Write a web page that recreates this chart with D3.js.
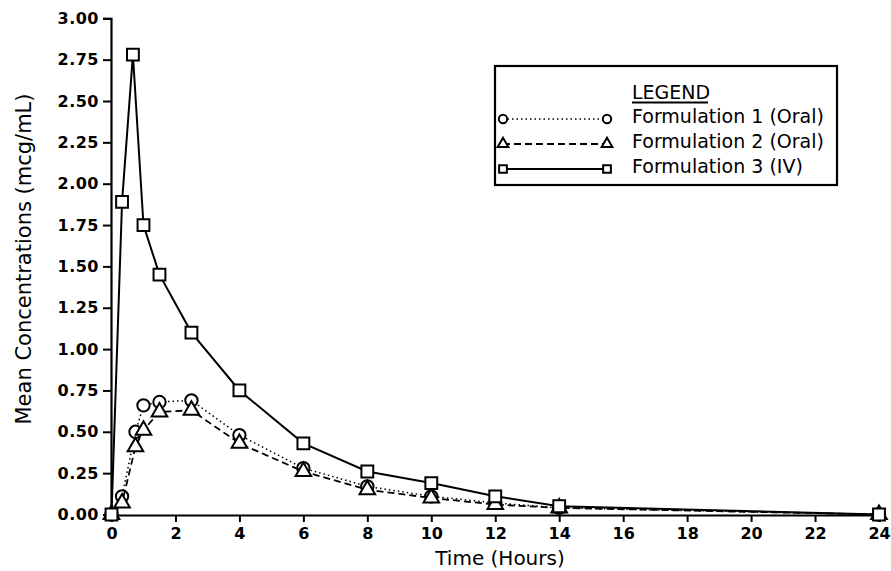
<!DOCTYPE html>
<html><head><meta charset="utf-8">
<script src="https://cdn.jsdelivr.net/npm/d3@7"></script>
<style>
html,body{margin:0;padding:0;background:#fff;}
svg{display:block;font-family:"DejaVu Sans",sans-serif;}
</style></head>
<body>
<svg id="chart" width="891" height="571"></svg>
<script>
// ---- data ----
const timesOral = [0, 0.33, 0.75, 1, 1.5, 2.5, 4, 6, 8, 10, 12, 14, 24];
const form1 = [0, 0.11, 0.50, 0.66, 0.68, 0.69, 0.48, 0.28, 0.17, 0.11, 0.07, 0.04, 0.00];
const form2 = [0, 0.07, 0.41, 0.51, 0.62, 0.63, 0.43, 0.26, 0.15, 0.10, 0.06, 0.04, 0.00];
const timesIV = [0, 0.33, 0.67, 1, 1.5, 2.5, 4, 6, 8, 10, 12, 14, 24];
const form3 = [0, 1.89, 2.78, 1.75, 1.45, 1.10, 0.75, 0.43, 0.26, 0.19, 0.11, 0.05, 0.00];
const xTicks = [0,2,4,6,8,10,12,14,16,18,20,22,24];
const yTicks = [0,0.25,0.5,0.75,1,1.25,1.5,1.75,2,2.25,2.5,2.75,3];
const seriesNames = ["Formulation 1 (Oral)", "Formulation 2 (Oral)", "Formulation 3 (IV)"];
const legendTitle = "LEGEND";
const xTitle = "Time (Hours)";
const yTitle = "Mean Concentrations (mcg/mL)";

const series = [
  {name: seriesNames[0], t: timesOral, v: form1, dash: "1.5,3", width: 1.5, sym: d3.symbolCircle},
  {name: seriesNames[1], t: timesOral, v: form2, dash: "7,4", width: 1.8, sym: d3.symbolTriangle},
  {name: seriesNames[2], t: timesIV, v: form3, dash: null, width: 2, sym: d3.symbolSquare}
];

const svg = d3.select("#chart");
const x = d3.scaleLinear().domain([0,24]).range([111.5, 879]);
const y = d3.scaleLinear().domain([0,3]).range([514.5, 18.3]);

// axes
const yAxis = svg.append("g").attr("transform","translate(111,0)")
  .call(d3.axisLeft(y).tickValues(yTicks).tickFormat(d3.format(".2f")).tickSizeOuter(0).tickSize(8).tickPadding(4));
const xAxis = svg.append("g").attr("transform","translate(0,515)")
  .call(d3.axisBottom(x).tickValues(xTicks).tickFormat(d3.format("d")).tickSizeOuter(0).tickSize(7).tickPadding(6));
[yAxis, xAxis].forEach(g=>{
  g.select(".domain").attr("stroke","#000").attr("stroke-width",2.2);
  g.selectAll(".tick line").attr("stroke","#000").attr("stroke-width",2);
  g.selectAll(".tick text").attr("fill","#000").attr("font-size",16)
    .attr("font-family","DejaVu Sans, sans-serif").attr("font-weight","bold");
});
yAxis.selectAll(".tick text").attr("letter-spacing", 0.5);

// titles
svg.append("text").attr("x", 500).attr("y", 565).attr("text-anchor","middle")
  .attr("font-size",20).text(xTitle);
svg.append("text").attr("transform","translate(31,259) rotate(-90)").attr("text-anchor","middle")
  .attr("font-size",21).text(yTitle);

// lines & markers
const sizes = [120, 105, 140];
series.forEach((s,i)=>{
  const pts = s.t.map((t,j)=>[t, s.v[j]]);
  svg.append("path").datum(pts)
    .attr("fill","none").attr("stroke","#000").attr("stroke-width",s.width)
    .attr("stroke-dasharray", s.dash)
    .attr("d", d3.line().x(d=>x(d[0])).y(d=>y(d[1])));
  svg.append("g").selectAll("path").data(pts).join("path")
    .attr("transform", d=>`translate(${x(d[0])},${y(d[1])})`)
    .attr("d", d3.symbol().type(s.sym).size(sizes[i]))
    .attr("fill","#fff").attr("stroke","#000").attr("stroke-width",2);
});

// legend
const lg = svg.append("g");
lg.append("rect").attr("x",495).attr("y",66).attr("width",342).attr("height",119)
  .attr("fill","#fff").attr("stroke","#000").attr("stroke-width",2.2);
lg.append("text").attr("x",632).attr("y",99).attr("font-size",19).text(legendTitle);
lg.append("line").attr("x1",632).attr("x2",708).attr("y1",102.5).attr("y2",102.5)
  .attr("stroke","#000").attr("stroke-width",1.8);
const rowY = [123, 148, 173];
series.forEach((s,i)=>{
  const my = rowY[i]-4;
  lg.append("line").attr("x1",503).attr("x2",607).attr("y1",my).attr("y2",my)
    .attr("stroke","#000").attr("stroke-width",s.width).attr("stroke-dasharray",s.dash);
  [503,607].forEach(mx=>{
    lg.append("path").attr("transform",`translate(${mx},${my})`)
      .attr("d", d3.symbol().type(s.sym).size(i===2?60:(i===1?50:55)))
      .attr("fill","#fff").attr("stroke","#000").attr("stroke-width",2);
  });
  lg.append("text").attr("x",632).attr("y",rowY[i]).attr("font-size",19).text(s.name);
});
</script>
</body></html>
